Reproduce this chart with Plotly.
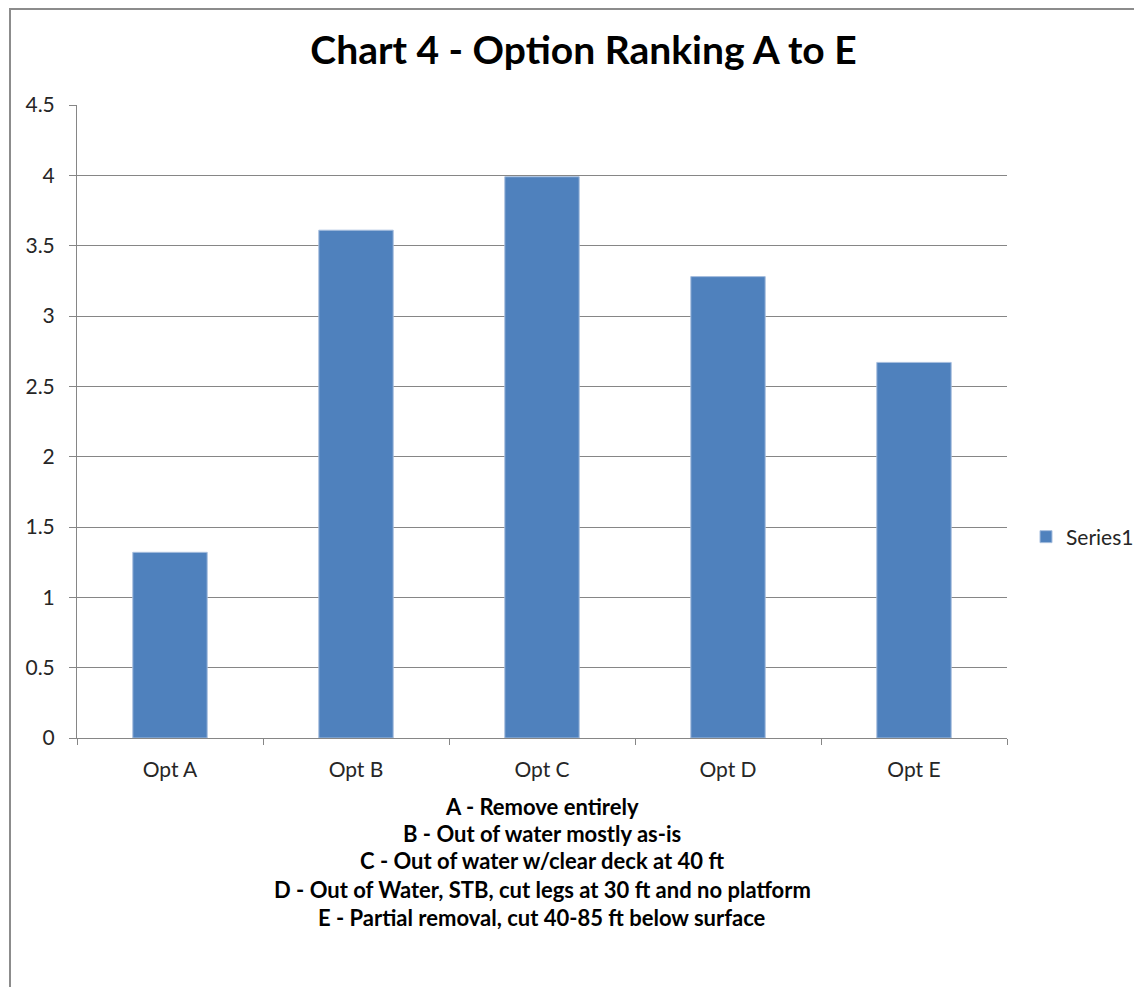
import plotly.graph_objects as go

categories = ["Opt A", "Opt B", "Opt C", "Opt D", "Opt E"]
values = [1.32, 3.61, 3.99, 3.28, 2.67]
series_name = "Series1"
y_ticks = [0, 0.5, 1, 1.5, 2, 2.5, 3, 3.5, 4, 4.5]
y_tick_labels = ["0", "0.5", "1", "1.5", "2", "2.5", "3", "3.5", "4", "4.5"]
title_text = "Chart 4 - Option Ranking A to E"
notes = [
    "A - Remove entirely",
    "B - Out of water mostly as-is",
    "C - Out of water w/clear deck at 40 ft",
    "D - Out of Water, STB, cut legs at 30 ft and no platform",
    "E - Partial removal, cut 40-85 ft below surface",
]

OFF = 8  # page body margin
W, H = 1142 - OFF, 987 - OFF
# plot area in screen pixels
L, R, T, B = 77, 1007, 105, 738
pw, ph = R - L, B - T

def px_x(x):
    return (x - L) / pw

def px_y(y):
    return (B - y) / ph

FONT = "Lato"
GRID = "#868686"

fig = go.Figure()
fig.add_trace(go.Bar(
    x=categories, y=values, name=series_name,
    marker=dict(color="#4F81BD", line=dict(color="#A7BEDE", width=1)),
    showlegend=True,
))

note_y = [806, 833, 861, 889, 917]
annotations = []
for txt, yy in zip(notes, note_y):
    annotations.append(dict(
        text="<b>" + txt + "</b>", xref="paper", yref="paper",
        x=0.5, y=px_y(yy), xanchor="center", yanchor="middle",
        showarrow=False, font=dict(family=FONT, size=22, color="#000000"),
    ))

fig.update_layout(
    width=W, height=H,
    margin=dict(l=L - OFF, r=W - (R - OFF), t=T - OFF, b=H - (B - OFF), pad=0,
                autoexpand=False),
    paper_bgcolor="white", plot_bgcolor="white",
    title=dict(text="<b>" + title_text + "</b>", x=(583.5 - OFF) / W, xanchor="center",
               y=1 - (50 - OFF) / H, yanchor="middle",
               font=dict(family=FONT, size=39, color="#000000")),
    bargap=0.6,
    font=dict(family=FONT, size=21, color="#404040"),
    xaxis=dict(
        showgrid=False, showline=True, linecolor=GRID, linewidth=1,
        ticks="outside", ticklen=6, tickcolor=GRID, tickson="boundaries",
        tickfont=dict(family=FONT, size=21, color="#262626"),
        ticklabelstandoff=13,
    ),
    yaxis=dict(
        range=[0, 4.5], tickvals=y_ticks, ticktext=y_tick_labels,
        showgrid=True, gridcolor=GRID, gridwidth=1,
        showline=True, linecolor=GRID, linewidth=1,
        ticks="outside", ticklen=7, tickcolor=GRID,
        tickfont=dict(family=FONT, size=21, color="#262626"),
        ticklabelstandoff=10, zeroline=False,
    ),
    legend=dict(x=px_x(1026), y=px_y(537), xanchor="left", yanchor="middle",
                font=dict(family=FONT, size=21, color="#262626"),
                itemwidth=30, bgcolor="rgba(0,0,0,0)"),
    annotations=annotations,
    shapes=[dict(type="rect", xref="paper", yref="paper",
                 x0=px_x(10), x1=px_x(1170), y0=px_y(1010), y1=px_y(OFF + 1),
                 line=dict(color="#8C8C8C", width=2), fillcolor="rgba(0,0,0,0)",
                 layer="below")],
)

fig.write_html("out.html")
